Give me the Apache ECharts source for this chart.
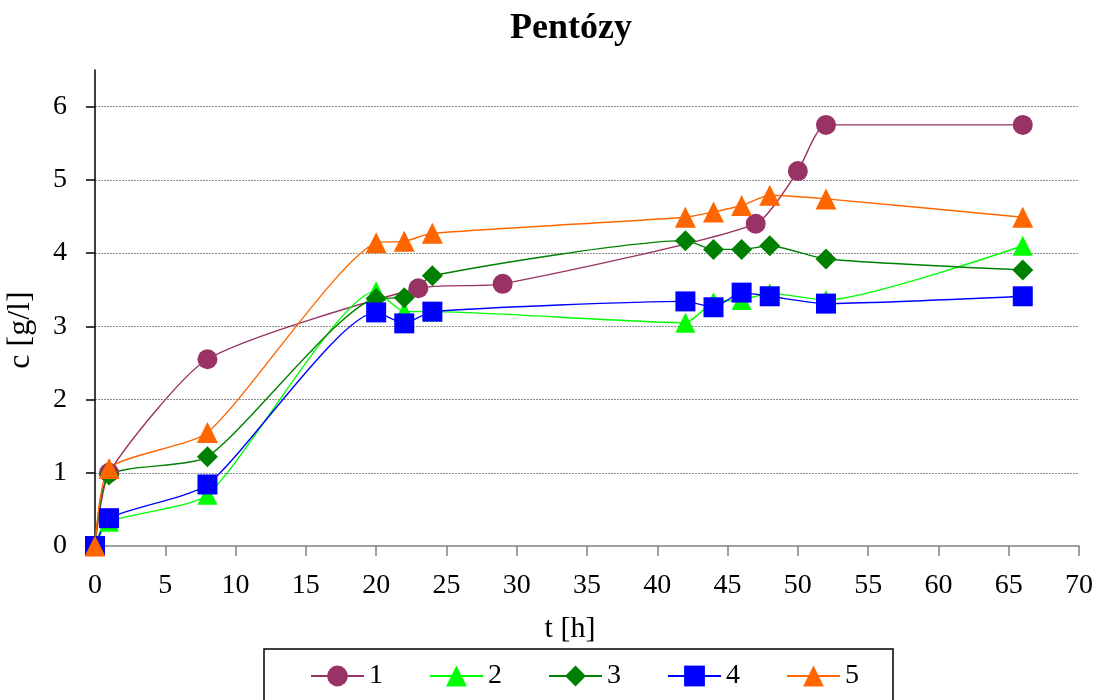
<!DOCTYPE html>
<html>
<head>
<meta charset="utf-8">
<script src="https://cdn.jsdelivr.net/npm/echarts@6/dist/echarts.min.js"></script>
<style>
  html, body { margin: 0; padding: 0; background: #fff; }
  #chart { width: 1102px; height: 700px; }
</style>
</head>
<body>
<div id="chart"></div>
<script>
// Pentose concentration over time for five runs
const chartTitle = 'Pentózy';
const xName = 't [h]';
const yName = 'c [g/l]';
const yTickValues = [0, 1, 2, 3, 4, 5, 6];

const seriesNames = ['1', '2', '3', '4', '5'];

const t1 = [0, 1, 8, 23, 29, 47, 50, 52, 66];
const c1 = [0, 1.0, 2.55, 3.52, 3.58, 4.40, 5.12, 5.75, 5.75];

const t2 = [0, 1, 8, 20, 22, 24, 42, 44, 46, 48, 52, 66];
const c2 = [0, 0.33, 0.70, 3.48, 3.20, 3.20, 3.05, 3.33, 3.36, 3.45, 3.36, 4.10];

const t3 = [0, 1, 8, 20, 22, 24, 42, 44, 46, 48, 52, 66];
const c3 = [0, 0.97, 1.22, 3.38, 3.39, 3.69, 4.17, 4.05, 4.05, 4.10, 3.92, 3.77];

const t4 = [0, 1, 8, 20, 22, 24, 42, 44, 46, 48, 52, 66];
const c4 = [0, 0.38, 0.84, 3.19, 3.04, 3.20, 3.34, 3.26, 3.46, 3.41, 3.31, 3.41];

const t5 = [0, 1, 8, 20, 22, 24, 42, 44, 46, 48, 52, 66];
const c5 = [0, 1.06, 1.55, 4.14, 4.16, 4.27, 4.49, 4.56, 4.65, 4.79, 4.74, 4.49];

const seriesTimes = [t1, t2, t3, t4, t5];
const seriesValues = [c1, c2, c3, c4, c5];
const seriesColors = ['#993366', '#00FF00', '#008000', '#0000FF', '#FF6600'];
const seriesSymbols = ['circle', 'triangle', 'diamond', 'rect', 'triangle'];
const seriesSymbolSizes = [20, 20, 21, 20, 21];

const font = '"Liberation Serif", "Times New Roman", serif';

const chart = echarts.init(document.getElementById('chart'), null, { renderer: 'canvas' });

const series = seriesNames.map((name, i) => ({
  name: name,
  type: 'line',
  data: seriesTimes[i].map((t, k) => [t, seriesValues[i][k]]),
  smooth: 0.2,
  symbol: seriesSymbols[i],
  symbolSize: seriesSymbolSizes[i],
  showAllSymbol: true,
  color: seriesColors[i],
  lineStyle: { width: 1.4, color: seriesColors[i] },
  itemStyle: { color: seriesColors[i], borderWidth: 0 },
  emphasis: { disabled: true },
  animation: false
}));

chart.setOption({
  backgroundColor: '#ffffff',
  animation: false,
  title: {
    text: chartTitle,
    left: 505,
    top: 6,
    textStyle: { fontFamily: font, fontSize: 36, fontWeight: 'bold', color: '#000' }
  },
  grid: { left: 95, right: 23, top: 70, bottom: 154, containLabel: false, outerBoundsMode: 'none' },
  xAxis: {
    type: 'value',
    min: 0,
    max: 70,
    interval: 5,
    name: xName,
    nameLocation: 'middle',
    nameGap: 68,
    nameTextStyle: { fontFamily: font, fontSize: 30, color: '#000', padding: [0, 34, 0, 0] },
    axisLine: { onZero: false, lineStyle: { color: '#808080', width: 1.5 } },
    axisTick: { show: true, inside: false, length: 10, lineStyle: { color: '#808080', width: 1.5 } },
    axisLabel: { fontFamily: font, fontSize: 28, color: '#000', margin: 26 },
    splitLine: { show: false }
  },
  yAxis: {
    type: 'value',
    min: 0,
    max: 6.5,
    interval: 1,
    name: yName,
    nameLocation: 'middle',
    nameRotate: 90,
    nameGap: 58,
    nameTextStyle: { fontFamily: font, fontSize: 32, color: '#000', padding: [0, 44, 0, 0] },
    axisLine: { show: true, onZero: false, lineStyle: { color: '#000', width: 1.5 } },
    axisTick: { show: true, inside: false, length: 9, customValues: yTickValues, lineStyle: { color: '#000', width: 1.5 } },
    axisLabel: { fontFamily: font, fontSize: 28, color: '#000', margin: 28, customValues: yTickValues },
    splitLine: {
      show: true,
      showMinLine: false,
      showMaxLine: true,
      lineStyle: { color: '#8c8c8c', type: [2, 1], width: 1 }
    }
  },
  legend: {
    data: seriesNames,
    left: 264,
    top: 649,
    orient: 'horizontal',
    backgroundColor: '#fff',
    borderColor: '#000',
    borderWidth: 1.5,
    padding: [13, 34, 30, 46],
    itemWidth: 53,
    itemHeight: 26,
    itemGap: 46,
    textStyle: { fontFamily: font, fontSize: 28, color: '#000' },
    selectedMode: false
  },
  series: series
});
</script>
</body>
</html>
